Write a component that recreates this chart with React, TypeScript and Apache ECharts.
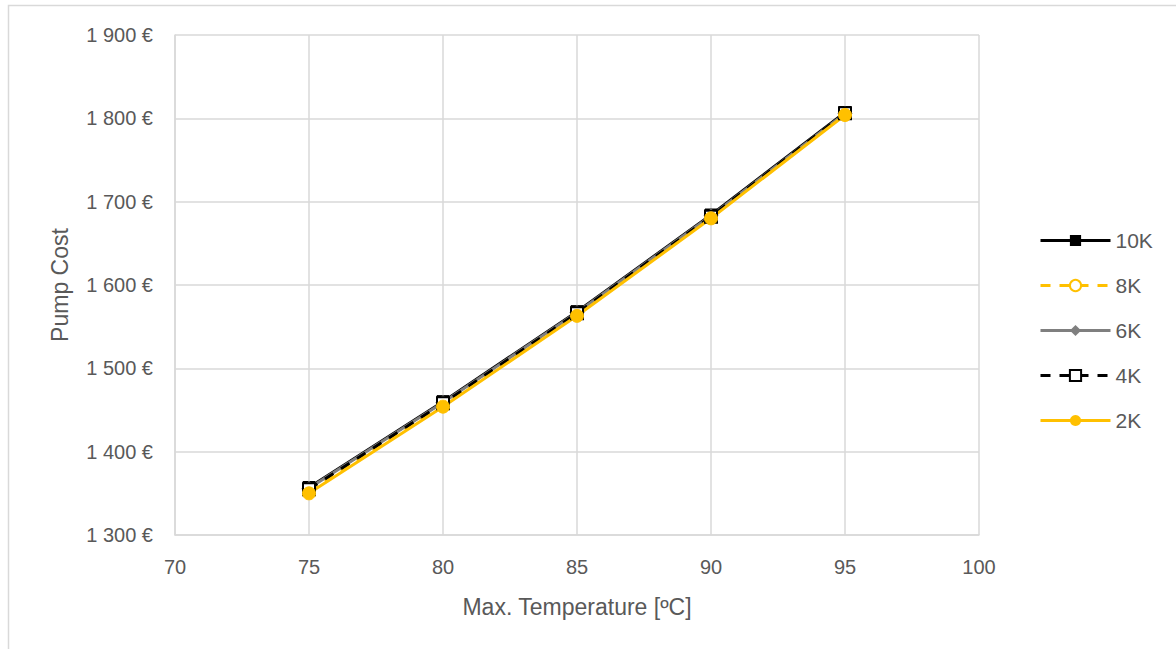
import React, { useEffect, useRef } from "react";
import * as echarts from "echarts";

const temps = [75, 80, 85, 90, 95];
const s10K = [1357, 1460, 1568, 1684, 1807];
const s8K = [1352, 1456, 1565, 1681, 1805];
const s6K = [1356, 1459, 1567, 1683, 1806];
const s4K = [1355, 1458, 1566, 1682, 1806];
const s2K = [1350, 1454, 1563, 1680, 1804];
const seriesNames = ["10K", "8K", "6K", "4K", "2K"];

const FONT = "Liberation Sans";
const TXT = "#595959";
const GRID = "#d9d9d9";

function fmtEuro(v: number) {
  const s = String(Math.round(v));
  return s.replace(/\B(?=(\d{3})+(?!\d))/g, " ") + " €";
}

export default function App() {
  const ref = useRef<HTMLDivElement>(null);
  useEffect(() => {
    document.body.style.margin = "0";
    const chart = echarts.init(ref.current!, undefined, { renderer: "svg" });
    const pair = (arr: number[]) => temps.map((t, i) => [t, arr[i]]);
    chart.setOption({
      animation: false,
      backgroundColor: "#ffffff",
      textStyle: { fontFamily: FONT },
      graphic: [
        {
          type: "rect",
          shape: { x: 8.5, y: 5.5, width: 1300, height: 800 },
          style: { fill: "none", stroke: GRID, lineWidth: 1.5 },
          silent: true,
        },
      ],
      grid: { left: 175, top: 35, right: 197, bottom: 114, containLabel: false },
      xAxis: {
        type: "value",
        min: 70,
        max: 100,
        interval: 5,
        name: "Max. Temperature [ºC]",
        nameLocation: "middle",
        nameGap: 60,
        nameTextStyle: { color: TXT, fontSize: 23, fontFamily: FONT },
        axisLine: { show: true, lineStyle: { color: GRID, width: 1.5 } },
        axisTick: { show: false },
        axisLabel: { color: TXT, fontSize: 20, margin: 22, fontFamily: FONT },
        splitLine: { show: true, lineStyle: { color: GRID, width: 1.5 } },
      },
      yAxis: {
        type: "value",
        min: 1300,
        max: 1900,
        interval: 100,
        name: "Pump Cost",
        nameLocation: "middle",
        nameGap: 104,
        nameRotate: 90,
        nameTextStyle: { color: TXT, fontSize: 23, fontFamily: FONT },
        axisLine: { show: true, lineStyle: { color: GRID, width: 1.5 } },
        axisTick: { show: false },
        axisLabel: { color: TXT, fontSize: 20, margin: 22, fontFamily: FONT, formatter: (v: number) => fmtEuro(v) },
        splitLine: { show: true, lineStyle: { color: GRID, width: 1.5 } },
      },
      legend: {
        orient: "vertical",
        left: 1034,
        top: 225,
        itemWidth: 70,
        itemHeight: 14,
        itemGap: 24,
        lineStyle: { width: 3 },
        textStyle: { color: TXT, fontSize: 21, fontFamily: FONT },
        data: seriesNames,
      },
      series: [
        {
          name: "10K",
          type: "line",
          data: pair(s10K),
          symbol: "rect",
          symbolSize: 12,
          lineStyle: { color: "#000000", width: 3 },
          itemStyle: { color: "#000000", borderColor: "#000000" },
        },
        {
          name: "8K",
          type: "line",
          data: pair(s8K),
          symbol: "circle",
          symbolSize: 12,
          lineStyle: { color: "#FFC000", width: 3, type: [10, 9] },
          itemStyle: { color: "#ffffff", borderColor: "#FFC000", borderWidth: 2 },
        },
        {
          name: "6K",
          type: "line",
          data: pair(s6K),
          symbol: "diamond",
          symbolSize: 14,
          lineStyle: { color: "#7F7F7F", width: 3 },
          itemStyle: { color: "#7F7F7F", borderColor: "#7F7F7F" },
        },
        {
          name: "4K",
          type: "line",
          data: pair(s4K),
          symbol: "rect",
          symbolSize: 12,
          lineStyle: { color: "#000000", width: 3, type: [10, 9] },
          itemStyle: { color: "#ffffff", borderColor: "#000000", borderWidth: 2 },
        },
        {
          name: "2K",
          type: "line",
          data: pair(s2K),
          symbol: "circle",
          symbolSize: 13,
          lineStyle: { color: "#FFC000", width: 3 },
          itemStyle: { color: "#FFC000", borderColor: "#FFC000" },
        },
      ],
    });
    return () => chart.dispose();
  }, []);
  return <div ref={ref} style={{ width: 1176, height: 649, position: "absolute", left: 0, top: 0 }} />;
}
